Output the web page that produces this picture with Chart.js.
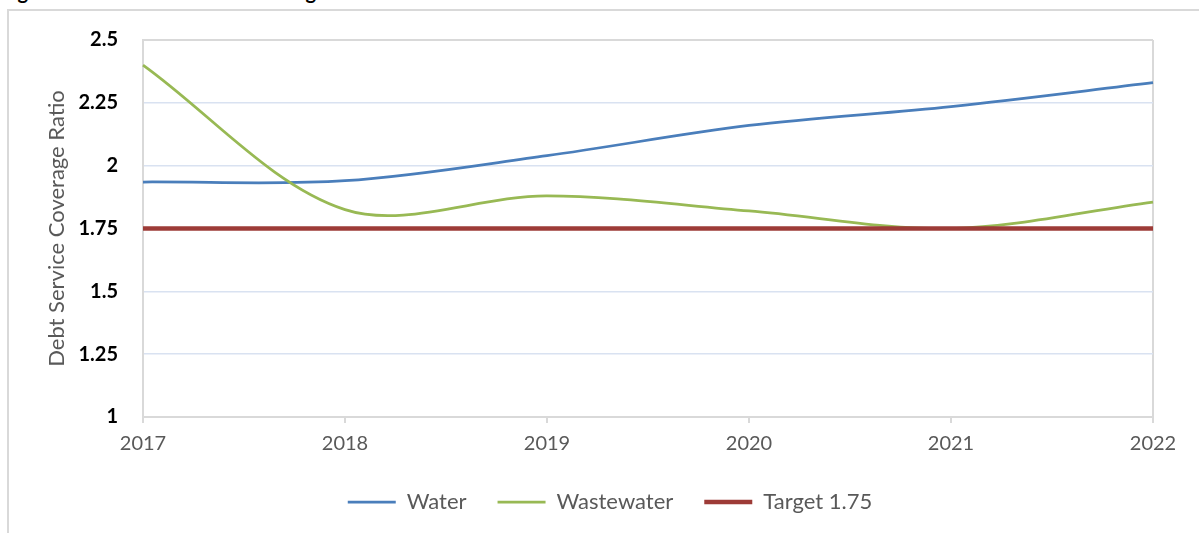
<!DOCTYPE html>
<html>
<head>
<meta charset="utf-8">
<script src="https://cdn.jsdelivr.net/npm/chart.js@4.4.1/dist/chart.umd.min.js"></script>
<style>
  html, body { margin: 0; padding: 0; background: #fff; }
  body { width: 1199px; height: 533px; position: relative; overflow: hidden; }
  #frame { position: absolute; left: 7px; top: 9px; width: 1300px; height: 600px; border: 2px solid #d9d9d9; box-sizing: border-box; }
  #title { position: absolute; left: 0; top: 0; width: 1199px; height: 5px; overflow: hidden; }
  #title span { position: absolute; left: -2px; top: -21px; font: bold 20px Lato, sans-serif; letter-spacing: 1.5px; color: #000; white-space: nowrap; }
  #c { position: absolute; left: 0; top: 0; }
</style>
</head>
<body>
<div id="title"><span>Figure 3: Debt Service Coverage Ratio</span></div>
<div id="frame"></div>
<canvas id="c" width="1199" height="533"></canvas>
<script>
const years = ['2017', '2018', '2019', '2020', '2021', '2022'];
const water = [1.935, 1.94, 2.04, 2.16, 2.235, 2.33];
const wastewater = [2.40, 1.825, 1.88, 1.82, 1.75, 1.855];
const target = [1.75, 1.75, 1.75, 1.75, 1.75, 1.75];
const yTicks = [1, 1.25, 1.5, 1.75, 2, 2.25, 2.5];

const gray = '#d9d9d9';
const gridBlue = '#d9e2f1';

const chart = new Chart(document.getElementById('c'), {
  type: 'line',
  data: {
    labels: years,
    datasets: [
      { label: 'Water', data: water, borderColor: '#4a7ebb', backgroundColor: '#4a7ebb', borderWidth: 2.75, pointRadius: 0, tension: 0.33, order: 2 },
      { label: 'Wastewater', data: wastewater, borderColor: '#98b954', backgroundColor: '#98b954', borderWidth: 2.75, pointRadius: 0, tension: 0.33, order: 1 },
      { label: 'Target 1.75', data: target, borderColor: '#9d3b37', backgroundColor: '#9d3b37', borderWidth: 4.5, pointRadius: 0, tension: 0, order: 0 }
    ]
  },
  options: {
    responsive: false,
    animation: false,
    devicePixelRatio: 1,
    layout: { padding: { left: 67, right: 46, top: 40, bottom: 10 } },
    plugins: {
      tooltip: { enabled: false },
      legend: {
        position: 'bottom',
        labels: {
          font: { family: 'Lato', size: 22 },
          color: '#595959',
          usePointStyle: true,
          pointStyle: 'line',
          pointStyleWidth: 48,
          boxHeight: 4,
          padding: 31,
          sort: (a, b) => a.datasetIndex - b.datasetIndex
        }
      }
    },
    scales: {
      x: {
        offset: false,
        grid: {
          color: (ctx) => (ctx.index === 0 || ctx.index === years.length - 1) ? gray : 'rgba(0,0,0,0)',
          lineWidth: 2,
          tickColor: gray,
          tickLength: 6,
          drawTicks: true
        },
        border: { display: true, color: gray, width: 2 },
        ticks: { font: { family: 'Lato', size: 20 }, color: '#595959', padding: 9, maxRotation: 0 },
        afterFit: (s) => { s.height = 43; }
      },
      y: {
        min: 1,
        max: 2.5,
        afterBuildTicks: (s) => { s.ticks = yTicks.map(v => ({ value: v })); },
        grid: {
          color: (ctx) => (ctx.tick && (ctx.tick.value === 2.5 || ctx.tick.value === 1)) ? gray : gridBlue,
          lineWidth: (ctx) => (ctx.tick && (ctx.tick.value === 2.5 || ctx.tick.value === 1)) ? 2 : 1.5,
          drawTicks: false
        },
        border: { display: true, color: gray, width: 2 },
        ticks: { font: { family: 'Lato', size: 20, weight: 'bold' }, color: '#000', padding: 25, callback: (v) => String(v) },
        title: { display: true, text: 'Debt Service Coverage Ratio', font: { family: 'Lato', size: 22 }, color: '#595959', padding: { top: -23, bottom: 0 } },
        afterFit: (s) => { s.width = 76; }
      }
    }
  }
});
</script>
</body>
</html>
